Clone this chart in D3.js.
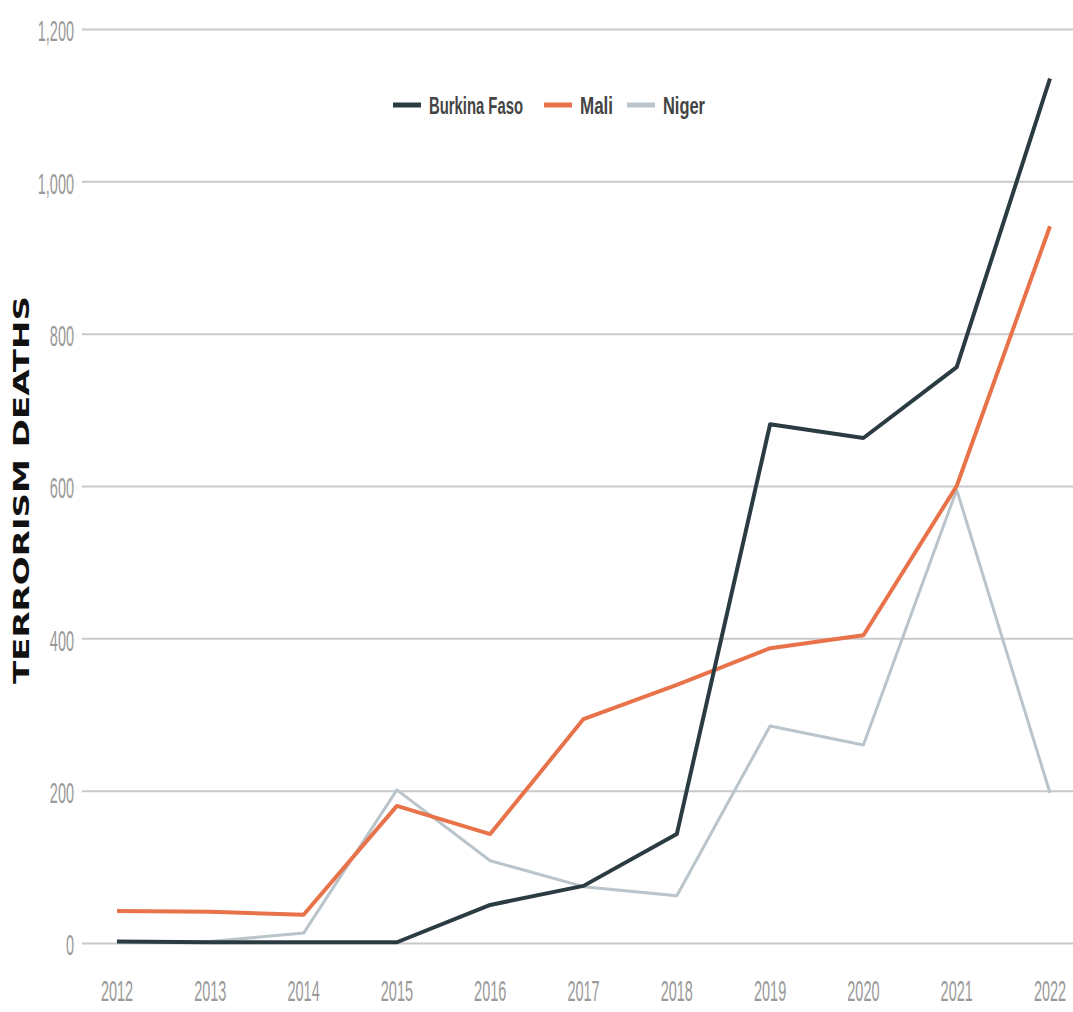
<!DOCTYPE html>
<html>
<head>
<meta charset="utf-8">
<script src="https://cdn.jsdelivr.net/npm/d3@7"></script>
<style>
  body { margin: 0; background: #fff; }
  svg { display: block; }
</style>
</head>
<body>
<svg id="chart"></svg>
<script>
const years = [2012, 2013, 2014, 2015, 2016, 2017, 2018, 2019, 2020, 2021, 2022]
const burkinaFaso = [2, 1, 1, 1, 50, 75, 143, 681, 663, 756, 1135]
const mali = [42, 41, 37, 180, 143, 294, 339, 387, 404, 600, 941]
const niger = [1, 2, 13, 201, 108, 74, 62, 285, 260, 595, 197]
const yTicks = [0, 200, 400, 600, 800, 1000, 1200]

const series = [
  {name: 'Burkina Faso', values: burkinaFaso, color: '#2b3b42', width: 4},
  {name: 'Mali', values: mali, color: '#e8734a', width: 4},
  {name: 'Niger', values: niger, color: '#b9c5ca', width: 3}
]

const width = 1073
const height = 1012
const margin = {top: 29, right: 23, bottom: 69, left: 117}

const svg = d3.select('#chart')
  .attr('width', width)
  .attr('height', height)

const x = d3.scalePoint()
  .domain(years)
  .range([margin.left, width - margin.right])

const y = d3.scaleLinear()
  .domain([0, 1200])
  .range([height - margin.bottom, margin.top])

const labelFont = '"Liberation Sans", Arial, sans-serif'
const squeeze = 0.5

// grid lines
const grid = svg.append('g')
  .attr('transform', `translate(82, 0)`)
  .call(d3.axisRight(y).tickValues(yTicks).tickSize(width - 82).tickFormat(''))
grid.select('.domain').remove()
grid.selectAll('line').attr('stroke', '#c9c9c9').attr('stroke-width', 2)

// y labels (narrow type)
svg.append('g')
  .selectAll('text')
  .data(yTicks)
  .join('text')
  .attr('transform', d => `translate(74, ${y(d) + 2}) scale(${squeeze}, 1)`)
  .attr('dy', '0.36em')
  .attr('text-anchor', 'end')
  .attr('font-family', labelFont)
  .attr('font-size', 29)
  .attr('fill', '#9a9a9a')
  .text(d3.format(','))

// x labels
svg.append('g')
  .selectAll('text')
  .data(years)
  .join('text')
  .attr('transform', d => `translate(${x(d)}, 991) scale(${squeeze}, 1)`)
  .attr('dy', '0.36em')
  .attr('text-anchor', 'middle')
  .attr('font-family', labelFont)
  .attr('font-size', 29)
  .attr('fill', '#9a9a9a')
  .text(d => d)

// axis title
svg.append('text')
  .attr('transform', `translate(29, 490) rotate(-90)`)
  .attr('text-anchor', 'middle')
  .attr('font-family', '"DejaVu Sans", sans-serif')
  .attr('font-weight', 'bold')
  .attr('font-size', 21)
  .attr('textLength', 388)
  .attr('lengthAdjust', 'spacingAndGlyphs')
  .attr('fill', '#111')
  .text('TERRORISM DEATHS')

// lines
const line = d3.line()
  .x((d, i) => x(years[i]))
  .y(d => y(d))

svg.append('g')
  .selectAll('path')
  .data(series.slice().reverse())
  .join('path')
  .attr('d', d => line(d.values))
  .attr('fill', 'none')
  .attr('stroke', d => d.color)
  .attr('stroke-width', d => d.width)
  .attr('stroke-linejoin', 'round')

// legend
const legendX = [393, 544, 627]
const legendW = [94, 33, 42]
const legend = svg.append('g')
  .selectAll('g')
  .data(series)
  .join('g')
  .attr('transform', (d, i) => `translate(${legendX[i]}, 105)`)

legend.append('line')
  .attr('x1', 0)
  .attr('x2', 28)
  .attr('stroke', d => d.color)
  .attr('stroke-width', 5)

legend.append('text')
  .attr('x', 36)
  .attr('dy', '0.36em')
  .attr('font-family', labelFont)
  .attr('font-weight', 'bold')
  .attr('font-size', 24)
  .attr('textLength', (d, i) => legendW[i])
  .attr('lengthAdjust', 'spacingAndGlyphs')
  .attr('fill', '#444')
  .text(d => d.name)
</script>
</body>
</html>
